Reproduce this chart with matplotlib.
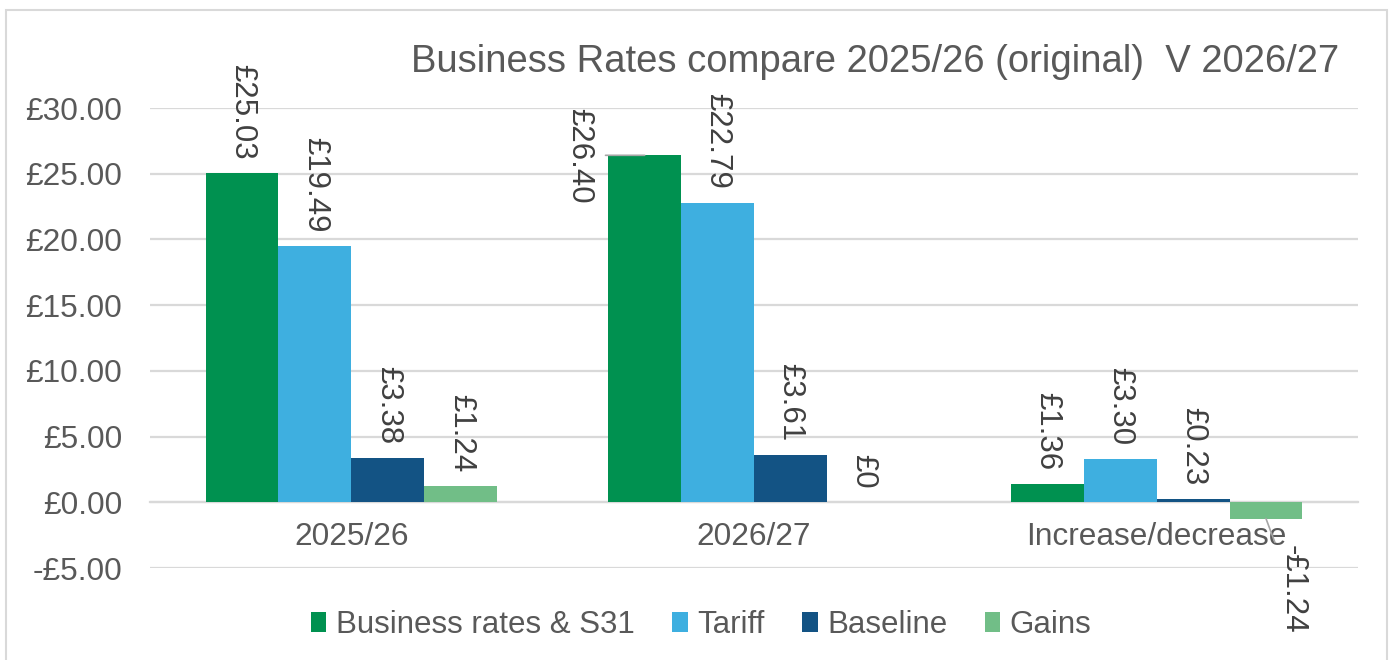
import numpy as np
import matplotlib
matplotlib.use('Agg')
import matplotlib.pyplot as plt
from matplotlib.patches import Rectangle
from matplotlib.ticker import FuncFormatter

plt.rcParams['font.family'] = ['Liberation Sans', 'DejaVu Sans']

# ---------------------------------------------------------------------------
# Data
# ---------------------------------------------------------------------------
categories = ['2025/26', '2026/27', 'Increase/decrease']
series_names = ['Business rates & S31', 'Tariff', 'Baseline', 'Gains']
business_rates = [25.03, 26.40, 1.36]
tariff = [19.49, 22.79, 3.30]
baseline = [3.38, 3.61, 0.23]
gains = [1.24, 0.0, -1.24]
label_text = [
    ['£25.03', '£26.40', '£1.36'],
    ['£19.49', '£22.79', '£3.30'],
    ['£3.38', '£3.61', '£0.23'],
    ['£1.24', '£0', '-£1.24'],
]
title = 'Business Rates compare 2025/26 (original)  V 2026/27'

colors = ['#009150', '#3EAFE0', '#135384', '#71BE87']
text_grey = '#595959'
label_grey = '#404040'
grid_grey = '#D9D9D9'

# ---------------------------------------------------------------------------
# Plot
# ---------------------------------------------------------------------------
fig = plt.figure(figsize=(13.94, 6.6), dpi=100)
ax = fig.add_axes([150 / 1394, 1 - 568 / 660, 1208 / 1394, 460 / 660])

x = np.arange(len(categories))
w = 0.181
all_series = [business_rates, tariff, baseline, gains]

for i, (vals, col, name) in enumerate(zip(all_series, colors, series_names)):
    xs = x + (i - 1.5) * w
    ax.bar(xs, vals, width=w, color=col, label=name, zorder=3)
    for j, (xx, v) in enumerate(zip(xs, vals)):
        txt = label_text[i][j]
        if i == 0 and j == 1:
            # label pushed to the left of the bar with a leader line
            ax.annotate(txt, xy=(xx, v), xytext=(-47, 0), textcoords='offset points',
                        rotation=270, ha='center', va='center', fontsize=22.5,
                        color=label_grey, zorder=5,
                        arrowprops=dict(arrowstyle='-', color='#A6A6A6', lw=1.2,
                                        shrinkA=6, shrinkB=0))
        elif v < 0:
            ax.annotate(txt, xy=(xx, v), xytext=(19, -19), textcoords='offset points',
                        rotation=270, ha='center', va='top', fontsize=22.5,
                        color=label_grey, zorder=5, annotation_clip=False,
                        arrowprops=dict(arrowstyle='-', color='#A6A6A6', lw=1.2,
                                        shrinkA=0, shrinkB=0))
        else:
            ax.annotate(txt, xy=(xx, v), xytext=(0, 10), textcoords='offset points',
                        rotation=270, ha='center', va='bottom', fontsize=22.5,
                        color=label_grey, zorder=5, annotation_clip=False)

ax.set_xlim(-0.5, 2.5)
ax.set_ylim(-5, 30)
ax.set_yticks(np.arange(-5, 31, 5))
ax.yaxis.set_major_formatter(FuncFormatter(
    lambda v, p: ('-£%.2f' % abs(v)) if v < 0 else ('£%.2f' % v)))
ax.set_xticks(x)
ax.set_xticklabels(categories)

ax.grid(axis='y', color=grid_grey, lw=1.6, zorder=0)
ax.set_axisbelow(True)
for s in ['top', 'right', 'left']:
    ax.spines[s].set_visible(False)
ax.spines['bottom'].set_position(('data', 0))
ax.spines['bottom'].set_color(grid_grey)
ax.spines['bottom'].set_linewidth(1.6)
ax.tick_params(axis='y', length=0, pad=20, labelsize=22.8, labelcolor=text_grey)
ax.tick_params(axis='x', length=0, pad=14, labelsize=22.8, labelcolor=text_grey)

fig.text(0.628, 1 - 62 / 660, title, ha='center', va='center',
         fontsize=27.5, color=text_grey)

fig.legend(loc='center', bbox_to_anchor=(0.503, 1 - 625 / 660), ncol=4,
           frameon=False, fontsize=22.5, handlelength=0.5, handleheight=0.6,
           handletextpad=0.3, columnspacing=1.2, labelcolor=text_grey)

fig.patches.append(Rectangle((6 / 1394, -0.01), 1381 / 1394, 1 - 10 / 660 + 0.01,
                             transform=fig.transFigure, fill=False,
                             edgecolor=grid_grey, lw=1.5))

plt.savefig('out.png', dpi=100)
